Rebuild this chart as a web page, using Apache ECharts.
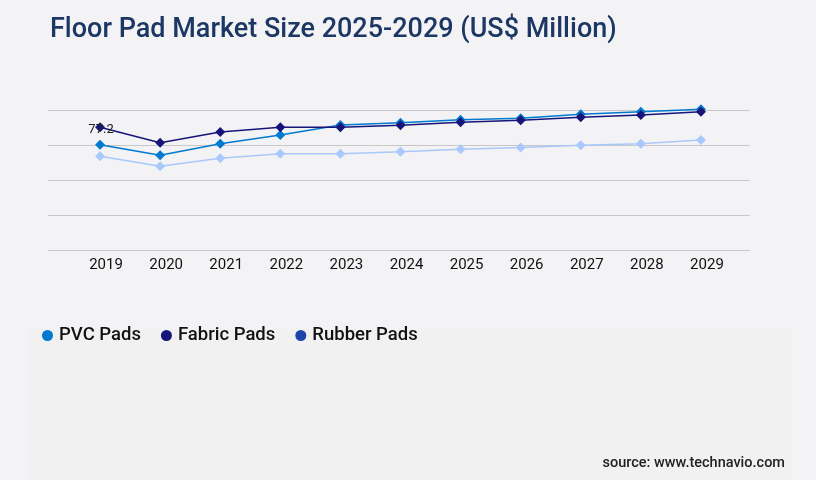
<!DOCTYPE html>
<html>
<head>
<meta charset="utf-8">
<script src="https://cdn.jsdelivr.net/npm/echarts@6/dist/echarts.min.js"></script>
<style>
html,body{margin:0;padding:0;background:#f3f3f5;}
#c{width:816px;height:480px;}
</style>
</head>
<body>
<div id="c"></div>
<script>
var years = ['2019','2020','2021','2022','2023','2024','2025','2026','2027','2028','2029'];
var pvcPads = [66.2, 59.5, 66.8, 72.3, 78.6, 80.0, 81.9, 82.8, 85.3, 86.9, 88.4];
var fabricPads = [77.2, 67.4, 74.2, 77.1, 77.1, 78.4, 80.3, 81.5, 83.4, 84.9, 86.9];
var rubberPads = [58.9, 52.6, 57.6, 60.5, 60.5, 61.8, 63.3, 64.5, 65.8, 66.8, 69.1];
var yMin = 0, yMax = 88, yStep = 22;

var chart = echarts.init(document.getElementById('c'));
var font = 'Roboto, "Noto Sans", sans-serif';
chart.setOption({
  backgroundColor: '#f3f3f5',
  animation: false,
  graphic: [
    {type: 'rect', z: -10, silent: true,
     shape: {x: 30, y: 329, width: 762, height: 151},
     style: {fill: '#f1f1f2'}},
    {type: 'text', right: 31, top: 456,
     style: {text: 'source: www.technavio.com', font: '500 14.5px Roboto, sans-serif', fill: '#222'}}
  ],
  title: {
    text: 'Floor Pad Market Size 2025-2029 (US$ Million)',
    left: 45, top: 12,
    textStyle: {fontFamily: font, fontSize: 27, fontWeight: 500, color: '#1c3764'}
  },
  legend: {
    left: 37, top: 321,
    icon: 'circle', itemWidth: 11, itemHeight: 12, itemGap: 20,
    textStyle: {fontFamily: font, fontSize: 18.5, fontWeight: 500, color: '#111', padding: [0,0,0,1]},
    data: [
      {name: 'PVC Pads', itemStyle: {color: '#0079d0'}},
      {name: 'Fabric Pads', itemStyle: {color: '#17157a'}},
      {name: 'Rubber Pads', itemStyle: {color: '#1d44a8'}}
    ]
  },
  grid: [
    {left: 48, right: 66, top: 110, bottom: 230},
    {left: 70, right: 85, top: 110, bottom: 230}
  ],
  xAxis: [
    {gridIndex: 0, type: 'category', data: years, show: false},
    {gridIndex: 1, type: 'category', data: years,
     axisLine: {show: false}, axisTick: {show: false},
     axisLabel: {fontFamily: font, fontSize: 15, color: '#111', margin: 8, padding: [0,0,0,12]}}
  ],
  yAxis: [
    {gridIndex: 0, type: 'value', min: yMin, max: yMax, interval: yStep,
     axisLine: {show: false}, axisTick: {show: false}, axisLabel: {show: false},
     splitLine: {lineStyle: {color: '#c8c8c8', width: 1}}},
    {gridIndex: 1, type: 'value', min: yMin, max: yMax, interval: yStep, show: false,
     splitLine: {show: false}}
  ],
  series: [
    {name: 'Rubber Pads', type: 'line', xAxisIndex: 1, yAxisIndex: 1, data: rubberPads,
     clip: false, symbol: 'diamond', symbolSize: 10,
     lineStyle: {color: '#a9c8fb', width: 1.5}, itemStyle: {color: '#a9c8fb'}},
    {name: 'PVC Pads', type: 'line', xAxisIndex: 1, yAxisIndex: 1, data: pvcPads,
     clip: false, symbol: 'diamond', symbolSize: 10,
     lineStyle: {color: '#0079d0', width: 1.5}, itemStyle: {color: '#0079d0'}},
    {name: 'Fabric Pads', type: 'line', xAxisIndex: 1, yAxisIndex: 1, data: fabricPads,
     clip: false, symbol: 'diamond', symbolSize: 10,
     lineStyle: {color: '#17157a', width: 1.5}, itemStyle: {color: '#17157a'},
     label: {show: true, position: 'inside', offset: [1, 3], fontFamily: font, fontSize: 13, color: '#222',
       formatter: function(p){ return p.dataIndex === 0 ? p.value : ''; }}}
  ]
});
</script>
</body>
</html>
